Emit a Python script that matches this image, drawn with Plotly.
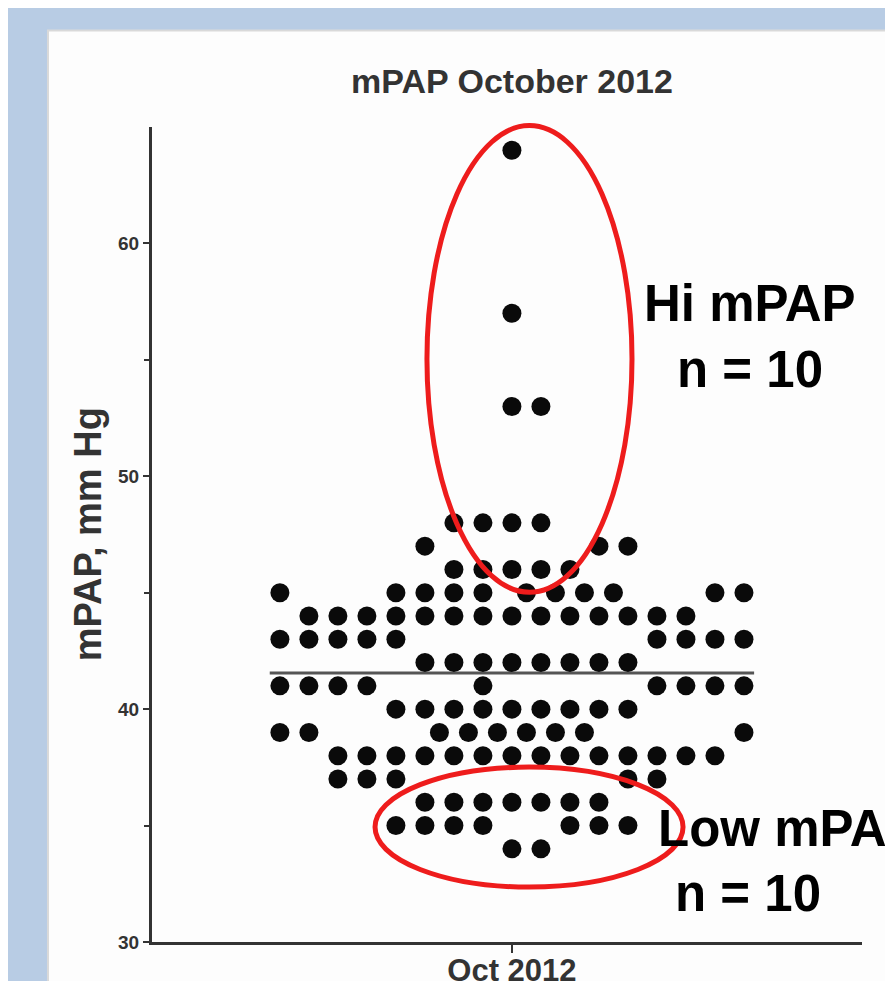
import plotly.graph_objects as go

# ---- data ----
mpap_rows = [64, 57, 53, 48, 47, 46, 45, 44, 43, 42, 41, 40, 39, 38, 37, 36, 35, 34]
row_offsets = [
    [0],
    [0],
    [0, 1],
    [-2, -1, 0, 1],
    [-3, 3, 4],
    [-2, -1, 0, 1, 2],
    [-8, -4, -3, -2, -1, 0.5, 1.5, 2.5, 3.5, 7, 8],
    [-7, -6, -5, -4, -3, -2, -1, 0, 1, 2, 3, 4, 5, 6],
    [-8, -7, -6, -5, -4, 5, 6, 7, 8],
    [-3, -2, -1, 0, 1, 2, 3, 4],
    [-8, -7, -6, -5, -1, 5, 6, 7, 8],
    [-4, -3, -2, -1, 0, 1, 2, 3, 4],
    [-8, -7, -2.5, -1.5, -0.5, 0.5, 1.5, 2.5, 8],
    [-6, -5, -4, -3, -2, -1, 0, 1, 2, 3, 4, 5, 6, 7],
    [-6, -5, -4, 4, 5],
    [-3, -2, -1, 0, 1, 2, 3],
    [-4, -3, -2, -1, 2, 3, 4],
    [0, 1],
]
category_label = "Oct 2012"
y_ticks = [30, 40, 50, 60]
y_minor_ticks = [35, 45, 55]
title_text = "mPAP October 2012"
y_title = "mPAP, mm Hg"

xs, ys = [], []
for v, offs in zip(mpap_rows, row_offsets):
    for o in offs:
        xs.append(o)
        ys.append(v)
mean_val = sum(ys) / len(ys)

X_RANGE = [-12.41, 12.07]
Y_RANGE = [30, 65]

def to_paper_x(x):
    return (x - X_RANGE[0]) / (X_RANGE[1] - X_RANGE[0])

def to_paper_y(y):
    return (y - Y_RANGE[0]) / (Y_RANGE[1] - Y_RANGE[0])

fig = go.Figure()

# mean line
fig.add_trace(go.Scatter(
    x=[min(xs) - 0.35, max(xs) + 0.35], y=[mean_val, mean_val],
    mode="lines", line=dict(color="#555555", width=3),
    hoverinfo="skip", showlegend=False, cliponaxis=False))

# dots
fig.add_trace(go.Scatter(
    x=xs, y=ys, mode="markers",
    marker=dict(color="#0a0a0a", size=19, line=dict(width=0)),
    showlegend=False, cliponaxis=False))

RED = "#ee1c1c"
shapes = [
    # white slide panel
    dict(type="rect", xref="paper", yref="paper",
         x0=-0.1465, x1=1.2, y0=-0.2, y1=1.1183,
         fillcolor="#fdfdfd", line=dict(color="#d9d9d9", width=2), layer="below"),
    # Hi ellipse
    dict(type="circle", xref="paper", yref="paper",
         x0=to_paper_x(-2.93), x1=to_paper_x(4.14),
         y0=to_paper_y(45.02), y1=to_paper_y(65.06),
         line=dict(color=RED, width=5), layer="above"),
    # Low ellipse
    dict(type="circle", xref="paper", yref="paper",
         x0=to_paper_x(-4.72), x1=to_paper_x(5.90),
         y0=to_paper_y(32.36), y1=to_paper_y(37.51),
         line=dict(color=RED, width=5), layer="above"),
]

big = dict(family="Liberation Sans, Arial, sans-serif", size=51, color="#000000", weight="bold")
annotations = [
    dict(text=title_text, xref="x", yref="paper", x=0, y=1.057, showarrow=False,
         xanchor="center", yanchor="middle",
         font=dict(family="Liberation Sans, Arial, sans-serif", size=34, color="#333333", weight="bold")),
    dict(text=y_title, xref="paper", yref="y", x=-0.0905, y=47.5, showarrow=False,
         textangle=-90, xanchor="center", yanchor="middle",
         font=dict(family="Liberation Sans, Arial, sans-serif", size=38, color="#333333", weight="bold")),
    dict(text="Hi mPAP", xref="x", yref="y", x=8.21, y=57.4, showarrow=False,
         xanchor="center", yanchor="middle", font=big),
    dict(text="n = 10", xref="x", yref="y", x=8.21, y=54.6, showarrow=False,
         xanchor="center", yanchor="middle", font=big),
    dict(text="Low mPAP", xref="x", yref="y", x=4.98, y=34.86, showarrow=False,
         xanchor="left", yanchor="middle", font=big),
    dict(text="n = 10", xref="x", yref="y", x=5.55, y=32.07, showarrow=False,
         xanchor="left", yanchor="middle", font=big),
]

fig.update_layout(
    width=893, height=981,
    margin=dict(l=144, r=39, t=119, b=47, pad=0, autoexpand=False),
    paper_bgcolor="#b8cce4", plot_bgcolor="rgba(0,0,0,0)",
    shapes=shapes, annotations=annotations, showlegend=False,
)
fig.update_xaxes(
    range=X_RANGE, tickvals=[0], ticktext=[category_label], automargin=False,
    showline=True, linecolor="#333333", linewidth=3,
    ticks="outside", ticklen=8, tickwidth=2, tickcolor="#333333",
    ticklabelstandoff=-9,
    showgrid=False, zeroline=False,
    tickfont=dict(family="Liberation Sans, Arial, sans-serif", size=31, color="#333333", weight="bold"),
)
fig.update_yaxes(
    range=Y_RANGE, tickvals=y_ticks, automargin=False,
    showline=True, linecolor="#333333", linewidth=3,
    ticks="outside", ticklen=6, tickwidth=2, tickcolor="#333333",
    minor=dict(tickvals=y_minor_ticks, ticks="outside", ticklen=5, tickwidth=2, tickcolor="#333333"),
    showgrid=False, zeroline=False,
    tickfont=dict(family="Liberation Sans, Arial, sans-serif", size=19, color="#333333", weight="bold"),
)

fig.write_html("out.html")
